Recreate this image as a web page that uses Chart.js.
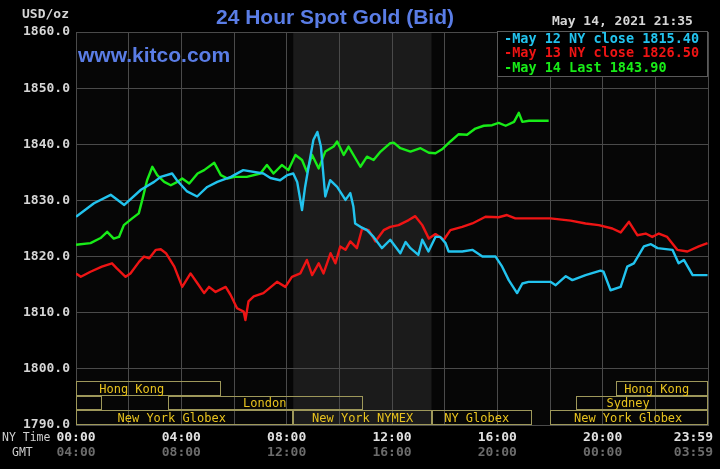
<!DOCTYPE html>
<html>
<head>
<meta charset="utf-8">
<script src="https://cdn.jsdelivr.net/npm/chart.js@4/dist/chart.umd.min.js"></script>
<style>
  html, body { margin: 0; background: #000; }
  canvas { display: block; }
</style>
</head>
<body>
<canvas id="gold" width="720" height="469"></canvas>
<script>
// minutes after NY midnight, values in USD/oz
const may12Times = [0,41,79,110,148,178,193,219,230,253,276,299,322,353,381,427,443,465,481,495,504,515,522,534,541,550,558,568,579,595,614,625,632,636,648,663,678,697,716,739,751,762,780,789,803,819,830,842,849,880,903,926,956,971,986,1005,1017,1031,1081,1093,1116,1131,1161,1195,1202,1218,1241,1256,1271,1294,1310,1325,1359,1373,1385,1405,1439];
const may12Values = [1827.1,1829.5,1831.0,1829.2,1831.9,1833.3,1834.2,1834.8,1833.6,1831.6,1830.7,1832.4,1833.3,1834.2,1835.4,1834.8,1834.0,1833.6,1834.5,1834.8,1833.3,1828.3,1832.4,1837.8,1840.8,1842.2,1839.6,1830.7,1833.6,1832.4,1830.1,1831.3,1828.9,1825.9,1825.3,1824.7,1823.5,1821.5,1823.0,1820.6,1822.6,1821.5,1820.3,1823.0,1820.9,1823.5,1823.5,1822.4,1820.9,1820.9,1821.2,1820.0,1820.0,1818.2,1815.8,1813.5,1815.2,1815.5,1815.5,1814.9,1816.5,1815.8,1816.7,1817.5,1817.3,1814.0,1814.6,1818.2,1818.8,1821.8,1822.2,1821.5,1821.2,1818.8,1819.4,1816.7,1816.7];

const may13Times = [0,11,33,59,82,93,113,124,144,155,167,182,193,205,224,242,261,277,292,303,318,341,352,367,382,386,393,405,427,458,477,492,511,526,538,553,564,580,591,602,614,625,640,652,667,682,701,716,735,758,773,789,804,819,838,853,880,903,933,963,982,1001,1081,1127,1161,1191,1222,1241,1260,1279,1298,1313,1328,1347,1370,1393,1419,1439];
const may13Values = [1817.0,1816.4,1817.3,1818.2,1818.8,1817.9,1816.4,1817.0,1819.1,1820.0,1819.7,1821.2,1821.3,1820.6,1818.2,1814.6,1817.0,1815.2,1813.5,1814.6,1813.7,1814.6,1813.2,1810.8,1810.2,1808.7,1812.0,1812.9,1813.5,1815.5,1814.6,1816.4,1817.0,1819.4,1816.7,1818.8,1817.0,1820.6,1818.8,1821.8,1821.2,1822.7,1821.5,1825.0,1824.7,1822.7,1824.7,1825.3,1825.6,1826.5,1827.2,1825.6,1823.2,1824.0,1823.0,1824.7,1825.3,1825.9,1827.1,1827.0,1827.4,1826.8,1826.8,1826.4,1825.9,1825.6,1825.0,1824.3,1826.2,1823.8,1824.1,1823.5,1824.1,1823.5,1821.2,1820.9,1821.8,1822.4];

const may14Times = [0,33,56,71,86,98,109,128,143,151,162,174,185,201,216,231,242,258,277,292,315,330,345,361,389,420,435,450,469,484,500,515,526,538,553,568,587,595,610,621,648,663,678,694,716,724,739,762,785,804,819,834,853,872,891,910,929,948,963,979,998,1009,1017,1032,1077];
const may14Values = [1822.1,1822.4,1823.3,1824.4,1823.2,1823.5,1825.6,1826.8,1827.7,1830.1,1833.6,1836.0,1834.5,1833.3,1832.7,1833.3,1833.9,1833.0,1834.8,1835.4,1836.7,1834.5,1833.9,1834.2,1834.2,1834.8,1836.3,1834.8,1836.3,1835.4,1838.1,1837.2,1835.1,1838.1,1835.7,1838.7,1839.6,1840.5,1838.1,1839.6,1836.0,1837.8,1837.2,1838.7,1840.2,1840.3,1839.3,1838.7,1839.3,1838.5,1838.4,1839.1,1840.5,1841.8,1841.7,1842.8,1843.3,1843.4,1843.8,1843.3,1844.0,1845.6,1844.0,1844.2,1844.2];

const legendLabels = ['May 12 NY close 1815.40', 'May 13 NY close 1826.50', 'May 14 Last 1843.90'];
const seriesColors = ['#22c3ee', '#ee1414', '#18ec18'];

const tickMinutes = [0, 240, 480, 720, 960, 1200, 1439];
const nyTickLabels = ['00:00', '04:00', '08:00', '12:00', '16:00', '20:00', '23:59'];
const gmtTickLabels = ['04:00', '08:00', '12:00', '16:00', '20:00', '00:00', '03:59'];

// NYMEX floor hours (shaded)
const shadeFrom = 495, shadeTo = 810;

// [row (0 = bottom), start, end, label, label centre] in minutes
const sessions = [
  [2, 0, 330, 'Hong Kong', 127],
  [2, 1230, 1440, 'Hong Kong', 1323],
  [1, 0, 60, '', 0],
  [1, 210, 655, 'London', 430],
  [1, 1140, 1440, 'Sydney', 1258],
  [0, 0, 495, 'New York Globex', 218],
  [0, 495, 810, 'New York NYMEX', 653],
  [0, 810, 1040, 'NY Globex', 913],
  [0, 1080, 1440, 'New York Globex', 1258]
];

const MONO = '"DejaVu Sans Mono", monospace';

function pts(t, v) {
  return t.map((m, i) => ({ x: m, y: v[i] }));
}

const decor = {
  id: 'decor',
  beforeDraw(chart) {
    const { ctx, chartArea: a } = chart;
    const x = chart.scales.x;
    ctx.save();
    ctx.fillStyle = '#000';
    ctx.fillRect(0, 0, chart.width, chart.height);
    ctx.fillStyle = '#060606';
    ctx.fillRect(a.left, a.top, a.right - a.left, a.bottom - a.top);
    const x0 = x.getPixelForValue(shadeFrom), x1 = x.getPixelForValue(shadeTo);
    ctx.fillStyle = '#1b1b1b';
    ctx.fillRect(x0, a.top, x1 - x0, a.bottom - a.top);
    ctx.restore();
  },
  afterDraw(chart) {
    const { ctx, chartArea: a } = chart;
    const x = chart.scales.x;
    ctx.save();

    // trading sessions
    const rowH = 14.7;
    ctx.lineWidth = 1;
    ctx.strokeStyle = '#9e985a';
    ctx.font = '12px ' + MONO;
    ctx.textAlign = 'center';
    ctx.textBaseline = 'middle';
    sessions.forEach(([row, s, e, label, mid]) => {
      const top = Math.round(a.bottom - (row + 1) * rowH) + 0.5;
      const bot = Math.round(a.bottom - row * rowH) - 0.5;
      const l = Math.round(x.getPixelForValue(s)) + 0.5;
      const r = Math.round(x.getPixelForValue(Math.min(e, 1440))) - 0.5;
      ctx.strokeRect(l, top, r - l, bot - top);
      if (label) {
        ctx.fillStyle = '#e8c31e';
        ctx.fillText(label, x.getPixelForValue(mid), (top + bot) / 2 + 1);
      }
    });

    // header texts
    ctx.textBaseline = 'middle';
    ctx.textAlign = 'left';
    ctx.fillStyle = '#d6d6d6';
    ctx.font = 'bold 13px ' + MONO;
    ctx.fillText('USD/oz', 22, 15);
    ctx.fillText('May 14, 2021 21:35', 552, 22);

    ctx.textAlign = 'center';
    ctx.fillStyle = '#5a7de6';
    ctx.font = 'bold 21px "Liberation Sans", Arial, sans-serif';
    ctx.fillText('24 Hour Spot Gold (Bid)', 335, 18);
    ctx.textAlign = 'left';
    ctx.fillText('www.kitco.com', 78, 56);

    // legend box
    ctx.fillStyle = '#000';
    ctx.fillRect(497, 31, 211, 46);
    ctx.strokeStyle = '#5a5a5a';
    ctx.strokeRect(497.5, 31.5, 210, 45);
    ctx.font = 'bold 13.5px ' + MONO;
    legendLabels.forEach((txt, i) => {
      ctx.fillStyle = seriesColors[i];
      ctx.fillText('-' + txt, 504, 39.5 + i * 14.3);
    });

    // time axis labels
    ctx.font = '11.5px ' + MONO;
    ctx.fillStyle = '#cfcfcf';
    ctx.textAlign = 'left';
    ctx.fillText('NY Time', 2, 438);
    ctx.fillText('GMT', 12, 453);
    ctx.font = 'bold 13px ' + MONO;
    ctx.textAlign = 'center';
    tickMinutes.forEach((m, i) => {
      let px = x.getPixelForValue(m);
      const w = ctx.measureText(nyTickLabels[i]).width;
      px = Math.min(px, chart.width - 7 - w / 2);
      px = Math.max(px, a.left - 2);
      ctx.fillStyle = '#e2e2e2';
      ctx.fillText(nyTickLabels[i], px, 438);
      ctx.fillStyle = '#6c6c6c';
      ctx.fillText(gmtTickLabels[i], px, 453);
    });
    ctx.restore();
  }
};

new Chart(document.getElementById('gold'), {
  type: 'line',
  plugins: [decor],
  data: {
    datasets: [
      { data: pts(may12Times, may12Values), borderColor: seriesColors[0] },
      { data: pts(may13Times, may13Values), borderColor: seriesColors[1] },
      { data: pts(may14Times, may14Values), borderColor: seriesColors[2] }
    ]
  },
  options: {
    responsive: false,
    animation: false,
    devicePixelRatio: 1,
    layout: { padding: { top: 32, right: 12, left: 0, bottom: 0 } },
    elements: {
      point: { radius: 0 },
      line: { borderWidth: 2.4, tension: 0, borderJoinStyle: 'round' }
    },
    plugins: {
      legend: { display: false },
      tooltip: { enabled: false }
    },
    scales: {
      x: {
        type: 'linear',
        min: 0,
        max: 1440,
        ticks: { stepSize: 120, display: false },
        grid: { color: '#4a4a4a', drawTicks: false },
        border: { color: '#4a4a4a' },
        afterFit: (s) => { s.height = 44; }
      },
      y: {
        min: 1790,
        max: 1860,
        ticks: {
          stepSize: 10,
          padding: 6,
          color: '#d6d6d6',
          font: { family: MONO, size: 13, weight: 'bold' },
          callback: (v) => v.toFixed(1)
        },
        grid: { color: '#4a4a4a', drawTicks: false },
        border: { color: '#4a4a4a' },
        afterFit: (s) => { s.width = 76; }
      }
    }
  }
});
</script>
</body>
</html>
